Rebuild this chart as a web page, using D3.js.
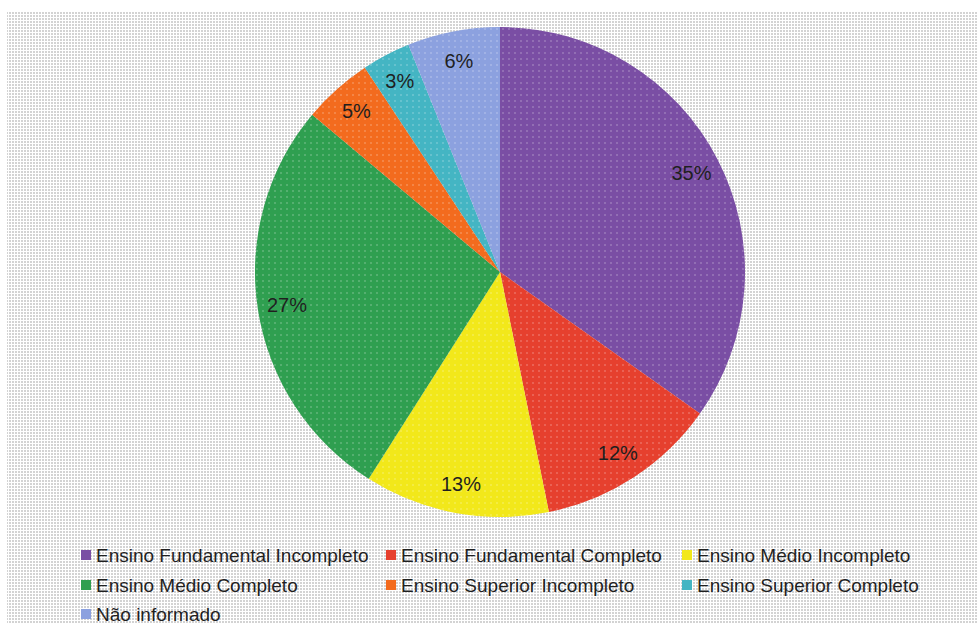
<!DOCTYPE html>
<html>
<head>
<meta charset="utf-8">
<script src="https://cdn.jsdelivr.net/npm/d3@7"></script>
<style>
  html, body { margin: 0; padding: 0; background: #ffffff; }
  svg { display: block; }
</style>
</head>
<body>
<svg id="chart" width="977" height="624"></svg>
<script>
// ---- data ----
const categories = [
  "Ensino Fundamental Incompleto",
  "Ensino Fundamental Completo",
  "Ensino Médio Incompleto",
  "Ensino Médio Completo",
  "Ensino Superior Incompleto",
  "Ensino Superior Completo",
  "Não informado"
];
const shares = [34.8, 12.0, 12.2, 27.1, 4.6, 3.2, 6.1];
const percentLabels = ["35%", "12%", "13%", "27%", "5%", "3%", "6%"];
const colors = ["#7a4ea4", "#e6402e", "#f2e81a", "#2f9f50", "#f36b1e", "#44b5c3", "#8ca1df"];

const svg = d3.select("#chart");
const W = 977, H = 624;

// background dotted pattern
const defs = svg.append("defs");
const bg = defs.append("pattern").attr("id", "bgdots")
  .attr("width", 3).attr("height", 3).attr("patternUnits", "userSpaceOnUse");
bg.append("rect").attr("width", 3).attr("height", 3).attr("fill", "#ffffff");
bg.append("rect").attr("width", 2).attr("height", 2).attr("fill", "#d3d3d3");

// slice texture
const tex = defs.append("pattern").attr("id", "slicedots")
  .attr("width", 6).attr("height", 6).attr("patternUnits", "userSpaceOnUse");
tex.append("rect").attr("x", 2).attr("y", 2).attr("width", 2).attr("height", 2)
  .attr("fill", "#ffffff").attr("opacity", 0.18);

svg.append("rect").attr("x", 7).attr("y", 11).attr("width", W - 7).attr("height", H - 11)
  .attr("fill", "url(#bgdots)");

// pie
const cx = 500, cy = 272, R = 245;
const pie = d3.pie().sort(null).value(d => d)
  .startAngle(0).endAngle(2 * Math.PI);
const arcs = pie(shares);
const arc = d3.arc().innerRadius(0).outerRadius(R);
const labelArc = d3.arc().innerRadius(R * 0.88).outerRadius(R * 0.88);

const g = svg.append("g").attr("transform", `translate(${cx},${cy})`);
g.selectAll("path.slice").data(arcs).enter().append("path")
  .attr("class", "slice")
  .attr("d", arc)
  .attr("fill", (d, i) => colors[i]);
g.selectAll("path.tex").data(arcs).enter().append("path")
  .attr("class", "tex")
  .attr("d", arc)
  .attr("fill", "url(#slicedots)");

g.selectAll("text.pct").data(arcs).enter().append("text")
  .attr("class", "pct")
  .attr("transform", d => `translate(${labelArc.centroid(d)})`)
  .attr("text-anchor", "middle")
  .attr("dy", "0.36em")
  .attr("font-family", "Liberation Sans, Arial, sans-serif")
  .attr("font-size", 20)
  .attr("fill", "#1f1f1f")
  .text((d, i) => percentLabels[i]);

// legend
const colX = [81, 386, 682];
const rowY = [562, 592, 621];
const legend = svg.append("g");
categories.forEach((c, i) => {
  const col = i % 3, row = Math.floor(i / 3);
  const item = legend.append("g");
  item.append("rect")
    .attr("x", colX[col]).attr("y", rowY[row] - 12)
    .attr("width", 10).attr("height", 10)
    .attr("fill", colors[i]);
  item.append("text")
    .attr("x", colX[col] + 15).attr("y", rowY[row])
    .attr("font-family", "Liberation Sans, Arial, sans-serif")
    .attr("font-size", 19)
    .attr("fill", "#1f1f1f")
    .text(c);
});
</script>
</body>
</html>
